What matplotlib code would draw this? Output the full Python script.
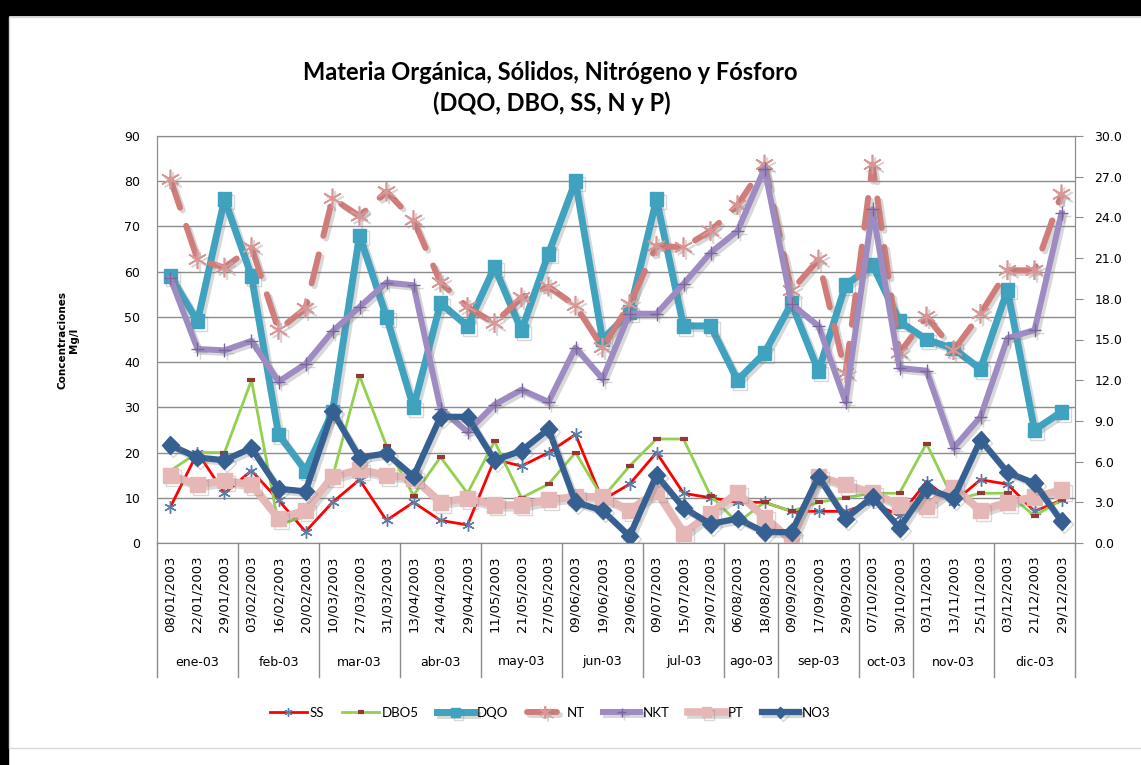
import numpy as np
import matplotlib.pyplot as plt
import matplotlib.patheffects as pe
import matplotlib.transforms as mtransforms
from matplotlib.patches import Rectangle
from matplotlib.lines import Line2D

# fechas de muestreo y meses (eje de categorias en dos niveles)
fechas = ['08/01/2003', '22/01/2003', '29/01/2003',
          '03/02/2003', '16/02/2003', '20/02/2003',
          '10/03/2003', '27/03/2003', '31/03/2003',
          '13/04/2003', '24/04/2003', '29/04/2003',
          '11/05/2003', '21/05/2003', '27/05/2003',
          '09/06/2003', '19/06/2003', '29/06/2003',
          '09/07/2003', '15/07/2003', '29/07/2003',
          '06/08/2003', '18/08/2003',
          '09/09/2003', '17/09/2003', '29/09/2003',
          '07/10/2003', '30/10/2003',
          '03/11/2003', '13/11/2003', '25/11/2003',
          '03/12/2003', '21/12/2003', '29/12/2003']
meses = ['ene-03', 'feb-03', 'mar-03', 'abr-03', 'may-03', 'jun-03',
         'jul-03', 'ago-03', 'sep-03', 'oct-03', 'nov-03', 'dic-03']
muestras_mes = [3, 3, 3, 3, 3, 3, 3, 2, 3, 2, 3, 3]

# eje principal (0-90)
ss = [8, 20, 11, 16, 9.5, 2.5, 9, 14, 5, 9, 5, 4, 18.5, 17, 20, 24, 9.5, 13,
      20, 11, 10, 9, 9, 7, 7, 7, 9, 6, 13.5, 9, 14, 13, 7, 9.5]
dbo5 = [16, 20, 20, 36, 4, 6, 14.5, 37, 21.5, 10.5, 19, 11, 22.5, 10, 13, 20, 10, 17,
        23, 23, 10.5, 4.5, 9, 7, 9, 10, 11, 11, 22, 9.5, 11, 11, 6, 9.5]
dqo = [59, 49, 76, 59, 24, 16, 29, 68, 50, 30, 53, 48, 61, 47, 64, 80, 45, 51,
       76, 48, 48, 36, 42, 53, 38, 57, 61.5, 49, 45, 43, 38.5, 56, 25, 29]

# eje secundario (0-30)
nt = [26.8, 20.9, 20.3, 21.8, 15.7, 17.3, 25.4, 24.1, 25.9, 23.8, 19.2, 17.4,
      16.2, 18.1, 18.9, 17.5, 14.4, 17.6, 21.9, 21.8, 23.0, 24.9, 27.9, 18.6,
      20.9, 12.5, 27.9, 14.0, 16.7, 14.2, 16.9, 20.1, 20.1, 25.7]
nkt = [19.5, 14.3, 14.2, 14.9, 11.9, 13.2, 15.6, 17.4, 19.2, 19.0, 9.9, 8.2,
       10.2, 11.3, 10.4, 14.4, 12.1, 16.9, 16.9, 19.1, 21.4, 23.0, 27.6, 17.6,
       16.0, 10.4, 24.6, 12.9, 12.7, 7.0, 9.3, 15.1, 15.7, 24.3]
pt = [5.0, 4.3, 4.6, 4.3, 1.8, 2.4, 4.9, 5.4, 5.0, 4.8, 3.0, 3.3, 2.8, 2.8, 3.2,
      3.4, 3.4, 2.4, 3.8, 0.7, 2.2, 3.7, 1.9, 0.2, 4.9, 4.3, 3.7, 2.8, 2.7, 4.1,
      2.4, 3.0, 3.4, 3.9]
no3 = [7.2, 6.3, 6.1, 7.0, 4.0, 3.8, 9.7, 6.3, 6.6, 4.9, 9.3, 9.3, 6.1, 6.8, 8.4,
       3.0, 2.4, 0.5, 5.0, 2.6, 1.4, 1.8, 0.8, 0.8, 4.9, 1.8, 3.4, 1.1, 4.0, 3.3,
       7.6, 5.2, 4.4, 1.6]

W, H = 1141, 765
fig = plt.figure(figsize=(W / 100, H / 100), dpi=100)
ax = fig.add_axes([157 / W, 1 - 543 / H, (1075 - 157) / W, (543 - 136) / H])
ax2 = ax.twinx()
x = np.arange(len(fechas))

sombra = [pe.SimpleLineShadow(offset=(2, -2), shadow_color='#7f7f7f', alpha=0.3), pe.Normal()]
asterisco = (6, 2, 0)

ax.plot(x, ss, color='#ff0000', lw=2, marker=asterisco, ms=9, mec='#5b7fa6', mew=1, label='SS')
ax.plot(x, dbo5, color='#92d050', lw=2, marker='_', ms=6, mec='#953735', mew=3, label='DBO5')
ax.plot(x, dqo, color='#3fa2bf', lw=5, marker='s', ms=10, label='DQO', path_effects=sombra)

ax2.plot(x, nt, color='#d07c7a', lw=4.3, dashes=(5, 3.2), dash_capstyle='round',
         marker=asterisco, ms=14, mec='#d99694', mew=1.2, label='NT', path_effects=sombra)
ax2.plot(x, nkt, color='#9e8bc2', lw=4.3, marker='+', ms=10, mec='#7b659f', mew=1,
         label='NKT', path_effects=sombra)
ax2.plot(x, pt, color='#e5b8b7', lw=5.5, marker='s', ms=11, label='PT', path_effects=sombra)
ax2.plot(x, no3, color='#376092', lw=4.5, marker='D', ms=9, label='NO3', path_effects=sombra)

gris = '#8c8c8c'
ax.set_xlim(-0.5, len(fechas) - 0.5)
ax.set_ylim(0, 90)
ax.set_yticks(range(0, 91, 10))
ax.grid(axis='y', color=gris, lw=1)
ax.set_axisbelow(True)
ax.tick_params(axis='y', length=0, labelsize=9, pad=12)
ax.set_xticks(x)
ax.set_xticklabels(fechas, rotation=90, fontsize=9.5)
ax.tick_params(axis='x', length=0, pad=9)

ax2.set_ylim(0, 30)
ax2.set_yticks(np.arange(0, 31, 3))
ax2.yaxis.set_major_formatter('{x:.1f}')
ax2.tick_params(axis='y', direction='out', length=6, color=gris, labelsize=9, pad=8)

for a in (ax, ax2):
    for s in a.spines.values():
        s.set_color(gris)

# separadores y nombres de mes debajo de las fechas
trans = mtransforms.blended_transform_factory(ax.transData, ax.transAxes)
bordes = np.concatenate([[0], np.cumsum(muestras_mes)]) - 0.5
for b in bordes:
    ax.add_line(Line2D([b, b], [0, -0.33], transform=trans, color=gris, lw=1, clip_on=False))
for i, mes in enumerate(meses):
    ax.text((bordes[i] + bordes[i + 1]) / 2, -(662 - 543) / 407, mes, transform=trans,
            ha='center', va='center', fontsize=9)

fig.text(68 / W, 1 - 340 / H, 'Concentraciones\nMg/l', rotation=90, ha='center', va='center',
         fontsize=7.5, fontweight='bold', multialignment='center')

fig.text(550 / W, 1 - 72 / H, 'Materia Orgánica, Sólidos, Nitrógeno y Fósforo',
         ha='center', va='center', fontsize=17, fontweight='bold', family='Lato')
fig.text(552 / W, 1 - 103 / H, '(DQO, DBO, SS, N y P)',
         ha='center', va='center', fontsize=17, fontweight='bold', family='Lato')

h1, l1 = ax.get_legend_handles_labels()
h2, l2 = ax2.get_legend_handles_labels()
fig.legend(h1 + h2, l1 + l2, loc='center', bbox_to_anchor=(550 / W, 1 - 713 / H), ncol=7,
           frameon=False, prop={'family': 'Lato', 'size': 9.5}, handlelength=2.8,
           columnspacing=1.4, handletextpad=0.2, markerscale=0.65)

# marco negro y borde del area del grafico
fig.patches.append(Rectangle((0, 1 - 15 / H), 1, 15 / H, transform=fig.transFigure, color='black'))
fig.patches.append(Rectangle((0, 0), 8 / W, 1, transform=fig.transFigure, color='black'))
fig.patches.append(Rectangle((9 / W, 1 - 748 / H), 1, (748 - 17) / H, transform=fig.transFigure,
                             fill=False, edgecolor='#d9d9d9', lw=1))

fig.savefig('out.png', dpi=100)
